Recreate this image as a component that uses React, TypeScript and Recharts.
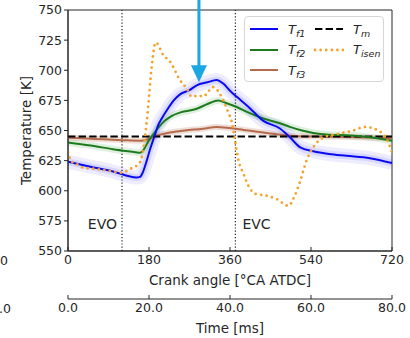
import React from 'react';
import {
  ComposedChart, Line, XAxis, YAxis, ReferenceLine, ReferenceArea, Legend, Label,
} from 'recharts';

const crankTicks = [0, 180, 360, 540, 720];
const tempTicks = [550, 575, 600, 625, 650, 675, 700, 725, 750];
const timeTicks = [0, 20, 40, 60, 80];

const tf1Angle = [0, 50, 100, 152, 160, 166, 175, 182, 192, 200, 210, 220, 235, 249, 270, 286, 310, 330, 345, 360, 375, 400, 434, 471, 493, 516, 545, 580, 619, 671, 720];
const tf1Temp = [624, 620, 616, 611, 611.5, 615, 625, 634, 645, 654, 661, 667, 675, 680, 683.5, 687.5, 690, 692, 689, 683, 678, 670, 658, 651.7, 644.4, 636, 632.8, 630.5, 629, 627, 623];

const tf2Angle = [0, 50, 100, 150, 160, 168, 180, 192, 200, 215, 230, 250, 286, 310, 334, 350, 375, 400, 434, 471, 493, 520, 545, 580, 619, 680, 720];
const tf2Temp = [640, 637.5, 634.5, 632, 631.5, 634, 642, 648, 652, 658, 662, 665, 668, 672, 675, 673, 669.5, 665, 660, 656, 653, 650, 648, 646.5, 646, 644, 641.5];

const tf3Angle = [0, 60, 120, 160, 180, 200, 230, 260, 300, 330, 360, 390, 420, 460, 500, 560, 640, 720];
const tf3Temp = [644, 643, 642, 641.5, 643, 646, 648.5, 650, 651.5, 653, 652, 650.5, 649, 647, 645.5, 645, 644.5, 643.5];

const tmAngle = [0, 720];
const tmTemp = [645, 645];

const isenAngle = [0, 8, 16, 30, 64, 93, 119, 138, 160, 171, 178, 186, 195, 212, 227, 249, 264, 275, 290, 301, 311, 322, 333, 345, 356, 364, 371, 379, 390, 401, 416, 441, 464, 490, 504, 516, 530, 545, 567, 597, 634, 660, 686, 708, 720];
const isenTemp = [632, 624, 623, 619.5, 618, 616.5, 615, 618, 623.5, 644, 669, 703, 723, 712.5, 707, 691.7, 684.7, 678, 679, 678, 682, 686, 683, 675, 665, 657, 642, 625, 614, 604, 597.5, 596, 593, 587.5, 596, 608, 625, 636, 644, 647, 650, 653, 650.5, 643, 632];

const legendLabels: Record<string, [string, string]> = {
  Tf1: ['T', 'f1'],
  Tm: ['T', 'm'],
  Tf2: ['T', 'f2'],
  Tisen: ['T', 'isen'],
  Tf3: ['T', 'f3'],
};
const legendOrder = ['Tf1', 'Tm', 'Tf2', 'Tisen', 'Tf3'];

const evoAngle = 120;
const evcAngle = 372;
const arrowAngle = 291;
const arrowTop = 762;
const arrowTip = 690;

const toPoints = (angles: number[], temps: number[]) =>
  angles.map((a, i) => ({ angle: a, temp: temps[i] }));

const tf1 = toPoints(tf1Angle, tf1Temp);
const tf2 = toPoints(tf2Angle, tf2Temp);
const tf3 = toPoints(tf3Angle, tf3Temp);
const tm = toPoints(tmAngle, tmTemp);
const isen = toPoints(isenAngle, isenTemp);
// empty series that only ties the time axis to the chart
const timeAnchor = timeTicks.map((t) => ({ time: t, temp: null }));

const FONT = '"DejaVu Sans", sans-serif';
const INK = '#262626';

function LegendBox(props: any) {
  const entries = (props.payload || []).filter((e: any) => legendLabels[e.value]);
  const byName: Record<string, any> = {};
  entries.forEach((e: any) => { byName[e.value] = e; });
  return (
    <div style={{
      position: 'relative', width: 140, height: 66, boxSizing: 'border-box',
      border: '1px solid #d6d6d6', borderRadius: 4, background: 'rgba(255,255,255,0.85)',
      fontFamily: FONT, fontSize: 13, color: INK,
    }}>
      {legendOrder.map((name, i) => {
        const e = byName[name];
        if (!e) return null;
        const col = i % 2;
        const row = Math.floor(i / 2);
        const p = e.payload || {};
        const [main, sub] = legendLabels[name];
        return (
          <div key={name} style={{ position: 'absolute', left: 3 + col * 65, top: 3 + row * 20.5, height: 18, display: 'flex', alignItems: 'center' }}>
            <svg width={31} height={10} style={{ marginRight: 9 }}>
              <line x1={2} y1={5} x2={30} y2={5} stroke={e.color} strokeWidth={p.strokeWidth || 2} strokeDasharray={p.strokeDasharray} strokeLinecap={p.strokeLinecap || 'butt'} />
            </svg>
            <span style={{ fontStyle: 'italic' }}>{main}</span>
            <span style={{ fontStyle: 'italic', fontSize: 9.5, position: 'relative', top: 4 }}>{sub}</span>
          </div>
        );
      })}
    </div>
  );
}

function Arrow(props: any) {
  const { x1, y1, x2, y2 } = props;
  const head = 17;
  return (
    <g>
      <line x1={x1} y1={y1} x2={x2} y2={y2 - head + 1} stroke="#1aa7e4" strokeWidth={3} />
      <polygon points={`${x2 - 8},${y2 - head} ${x2 + 8},${y2 - head} ${x2},${y2}`} fill="#1aa7e4" />
    </g>
  );
}

export default function App() {
  return (
    <div style={{ position: 'absolute', left: 0, top: 0, width: 410, height: 338, background: '#fff' }}>
      <div style={{ position: 'absolute', left: 0, top: 253, fontFamily: FONT, fontSize: 12.5, color: INK }}>0</div>
      <div style={{ position: 'absolute', left: -1, top: 301, fontFamily: FONT, fontSize: 12.5, color: INK }}>.0</div>
      <ComposedChart width={410} height={338} margin={{ top: 10, right: 18, left: 8, bottom: 0 }}
        style={{ fontFamily: FONT }}>
        <XAxis xAxisId={0} dataKey="angle" type="number" domain={[0, 720]} ticks={crankTicks}
          allowDataOverflow height={48} tickSize={-4} tickMargin={8}
          tick={{ fill: INK, fontSize: 12.5 }} stroke={INK}>
          <Label value="Crank angle [°CA ATDC]" position="insideBottom" offset={14}
            style={{ fill: INK, fontSize: 13.5 }} />
        </XAxis>
        <XAxis xAxisId="time" dataKey="time" type="number" domain={[0, 80]} ticks={timeTicks}
          allowDataOverflow height={39} tickSize={-4} tickMargin={8}
          tickFormatter={(v: number) => v.toFixed(1)}
          tick={{ fill: INK, fontSize: 12.5 }} stroke={INK}>
          <Label value="Time [ms]" position="insideBottom" offset={5}
            style={{ fill: INK, fontSize: 13.5 }} />
        </XAxis>
        <YAxis type="number" domain={[550, 750]} ticks={tempTicks} allowDataOverflow width={60}
          tickSize={4} tickMargin={2} tick={{ fill: INK, fontSize: 12.5 }} stroke={INK}>
          <Label value="Temperature [K]" angle={-90} position="insideLeft" offset={18}
            style={{ fill: INK, fontSize: 13.5, textAnchor: 'middle' }} />
        </YAxis>

        <ReferenceLine x={evoAngle} stroke="#222" strokeDasharray="1.2 2" strokeWidth={1.2}
          label={(p: any) => (
            <text x={p.viewBox.x - 5} y={p.viewBox.y + p.viewBox.height - 22} textAnchor="end"
              fontSize={14} fill={INK} fontFamily={FONT}>EVO</text>
          )} />
        <ReferenceLine x={evcAngle} stroke="#222" strokeDasharray="1.2 2" strokeWidth={1.2}
          label={(p: any) => (
            <text x={p.viewBox.x + 7} y={p.viewBox.y + p.viewBox.height - 22} textAnchor="start"
              fontSize={14} fill={INK} fontFamily={FONT}>EVC</text>
          )} />

        <Line xAxisId="time" data={timeAnchor} dataKey="temp" name="timeAnchor" legendType="none" stroke="none" dot={false} isAnimationActive={false} />

        <Line data={tf1} dataKey="temp" name="glow1a" legendType="none" type="monotone" stroke="#0000ff" strokeOpacity={0.07} strokeWidth={14} dot={false} isAnimationActive={false} />
        <Line data={tf1} dataKey="temp" name="glow1b" legendType="none" type="monotone" stroke="#0000ff" strokeOpacity={0.09} strokeWidth={7} dot={false} isAnimationActive={false} />
        <Line data={tf2} dataKey="temp" name="glow2" legendType="none" type="monotone" stroke="#008000" strokeOpacity={0.12} strokeWidth={7} dot={false} isAnimationActive={false} />
        <Line data={tf3} dataKey="temp" name="glow3" legendType="none" type="monotone" stroke="#a0522d" strokeOpacity={0.18} strokeWidth={6} dot={false} isAnimationActive={false} />

        <Line data={tf3} dataKey="temp" name="Tf3" type="monotone" stroke="#b66a4d" strokeWidth={2} dot={false} isAnimationActive={false} />
        <Line data={tm} dataKey="temp" name="Tm" type="linear" stroke="#000" strokeWidth={2} strokeDasharray="7.4 3.2" dot={false} isAnimationActive={false} />
        <Line data={tf2} dataKey="temp" name="Tf2" type="monotone" stroke="#1e7a1e" strokeWidth={2} dot={false} isAnimationActive={false} />
        <Line data={tf1} dataKey="temp" name="Tf1" type="monotone" stroke="#0a0af0" strokeWidth={2} dot={false} isAnimationActive={false} />
        <Line data={isen} dataKey="temp" name="Tisen" type="monotone" stroke="#f5a22a" strokeWidth={2.8} strokeDasharray="0 5.6" strokeLinecap="round" dot={false} isAnimationActive={false} />

        <ReferenceArea x1={0} x2={720} y1={550} y2={750} fill="none" stroke={INK} strokeWidth={1} />
        <ReferenceLine ifOverflow="visible" segment={[{ x: arrowAngle, y: arrowTop }, { x: arrowAngle, y: arrowTip }]}
          shape={(p: any) => <Arrow {...p} />} />

        <Legend layout="vertical" align="center" verticalAlign="middle" content={(p: any) => <LegendBox {...p} />}
          wrapperStyle={{ position: 'absolute', left: 244, top: 16, width: 140, height: 66 }} />
      </ComposedChart>
    </div>
  );
}
